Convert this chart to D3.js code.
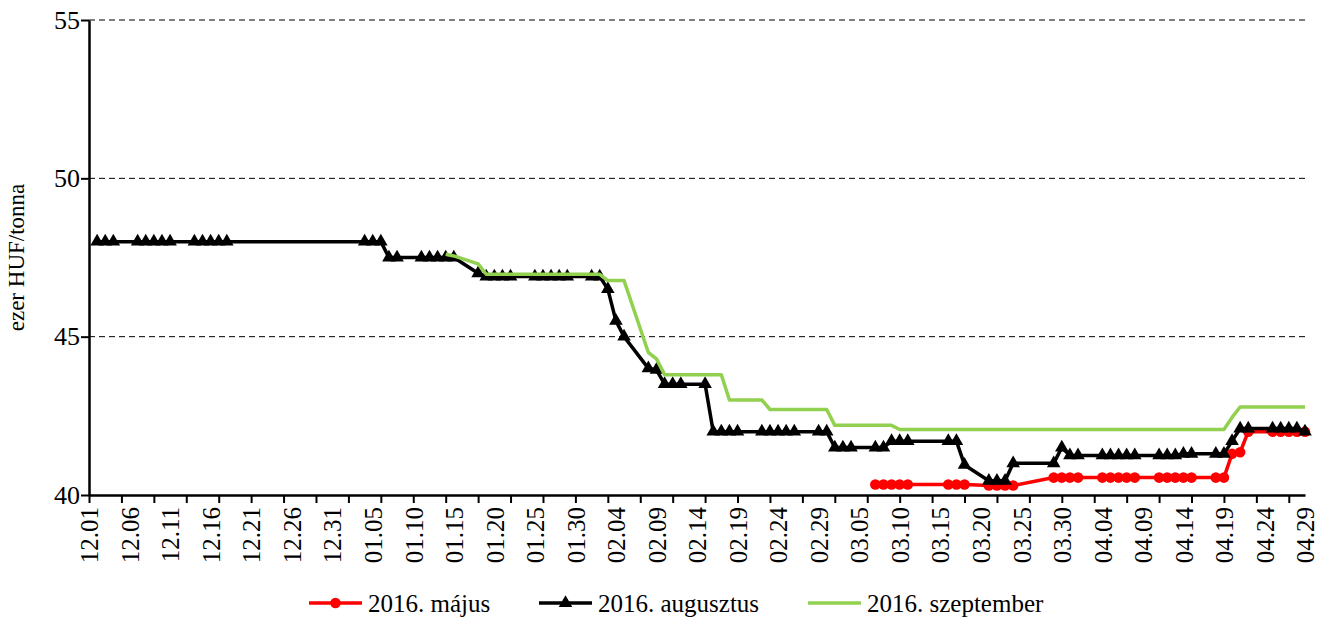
<!DOCTYPE html>
<html>
<head>
<meta charset="utf-8">
<script src="https://cdn.jsdelivr.net/npm/d3@7"></script>
<style>
  body { margin: 0; background: #fff; }
</style>
</head>
<body>
<div id="chart"></div>
<script>
var serif = "'Times New Roman', 'Liberation Serif', 'DejaVu Serif', serif";

// category axis: every day from 2015.12.01 to 2016.04.29
var days = d3.timeDay.range(new Date(2015, 11, 1), new Date(2016, 3, 30));
var fmt = d3.timeFormat("%m.%d");
var categories = days.map(fmt);
var labelTicks = categories.filter(function(d, i) { return i % 5 == 0; });
var markTicks = categories.filter(function(d, i) { return i % 4 == 0; });
var yTicks = [40, 45, 50, 55];

var seriesNames = ["2016. május", "2016. augusztus", "2016. szeptember"];

// 2016. május (red, circles)
var majus = [
  ["03.07",40.33],["03.08",40.33],["03.09",40.33],["03.10",40.33],["03.11",40.33],
  ["03.16",40.33],["03.17",40.33],["03.18",40.33],
  ["03.21",40.3],["03.22",40.3],["03.23",40.3],["03.24",40.3],
  ["03.29",40.55],["03.30",40.55],["03.31",40.55],["04.01",40.55],
  ["04.04",40.55],["04.05",40.55],["04.06",40.55],["04.07",40.55],["04.08",40.55],
  ["04.11",40.55],["04.12",40.55],["04.13",40.55],["04.14",40.55],["04.15",40.55],
  ["04.18",40.55],["04.19",40.55],
  ["04.20",41.3],["04.21",41.35],["04.22",42.0],
  ["04.25",42.0],["04.26",42.0],["04.27",42.0],["04.28",42.0],["04.29",42.0]
];

// 2016. augusztus (black, triangles)
var augusztus = [
  ["12.02",48],["12.03",48],["12.04",48],
  ["12.07",48],["12.08",48],["12.09",48],["12.10",48],["12.11",48],
  ["12.14",48],["12.15",48],["12.16",48],["12.17",48],["12.18",48],
  ["01.04",48],["01.05",48],["01.06",48],
  ["01.07",47.5],["01.08",47.5],
  ["01.11",47.5],["01.12",47.5],["01.13",47.5],["01.14",47.5],["01.15",47.5],
  ["01.18",47.0],
  ["01.19",46.9],["01.20",46.9],["01.21",46.9],["01.22",46.9],
  ["01.25",46.9],["01.26",46.9],["01.27",46.9],["01.28",46.9],["01.29",46.9],
  ["02.01",46.9],["02.02",46.9],
  ["02.03",46.5],["02.04",45.5],["02.05",45.0],
  ["02.08",44.0],["02.09",43.95],
  ["02.10",43.5],["02.11",43.5],["02.12",43.5],["02.15",43.5],
  ["02.16",42.0],["02.17",42.0],["02.18",42.0],["02.19",42.0],
  ["02.22",42.0],["02.23",42.0],["02.24",42.0],["02.25",42.0],["02.26",42.0],
  ["02.29",42.0],["03.01",42.0],
  ["03.02",41.5],["03.03",41.5],["03.04",41.5],["03.07",41.5],["03.08",41.5],
  ["03.09",41.7],["03.10",41.7],["03.11",41.7],["03.16",41.7],["03.17",41.7],
  ["03.18",40.95],
  ["03.21",40.45],["03.22",40.45],["03.23",40.45],
  ["03.24",41.0],["03.29",41.0],
  ["03.30",41.5],
  ["03.31",41.25],["04.01",41.25],
  ["04.04",41.25],["04.05",41.25],["04.06",41.25],["04.07",41.25],["04.08",41.25],
  ["04.11",41.25],["04.12",41.25],["04.13",41.25],["04.14",41.3],["04.15",41.3],
  ["04.18",41.3],["04.19",41.3],
  ["04.20",41.7],
  ["04.21",42.1],["04.22",42.1],
  ["04.25",42.1],["04.26",42.1],["04.27",42.1],["04.28",42.1],
  ["04.29",42.0]
];

// 2016. szeptember (green, no markers)
var szeptember = [
  ["01.14",47.6],["01.15",47.55],["01.18",47.3],
  ["01.19",46.97],["01.20",46.97],["01.21",46.97],["01.22",46.97],
  ["01.25",46.97],["01.26",46.97],["01.27",46.97],["01.28",46.97],["01.29",46.97],
  ["02.01",46.97],["02.02",46.97],
  ["02.03",46.77],["02.04",46.77],["02.05",46.77],
  ["02.08",44.5],["02.09",44.3],
  ["02.10",43.8],["02.11",43.8],["02.12",43.8],["02.15",43.8],["02.16",43.8],["02.17",43.8],
  ["02.18",43.0],["02.19",43.0],["02.22",43.0],
  ["02.23",42.7],["02.24",42.7],["02.25",42.7],["02.26",42.7],["02.29",42.7],["03.01",42.7],
  ["03.02",42.2],["03.03",42.2],["03.04",42.2],["03.07",42.2],["03.08",42.2],["03.09",42.2],
  ["03.10",42.07],["03.11",42.07],["03.16",42.07],["03.17",42.07],["03.18",42.07],
  ["03.21",42.07],["03.22",42.07],["03.23",42.07],["03.24",42.07],
  ["03.29",42.07],["03.30",42.07],["03.31",42.07],["04.01",42.07],
  ["04.04",42.07],["04.05",42.07],["04.06",42.07],["04.07",42.07],["04.08",42.07],
  ["04.11",42.07],["04.12",42.07],["04.13",42.07],["04.14",42.07],["04.15",42.07],
  ["04.18",42.07],["04.19",42.07],
  ["04.20",42.45],["04.21",42.78],["04.22",42.78],
  ["04.25",42.78],["04.26",42.78],["04.27",42.78],["04.28",42.78],["04.29",42.78]
];

var width = 1328, height = 618;
var margin = {top: 20, right: 23, bottom: 123, left: 89};

var svg = d3.select("#chart").append("svg")
    .attr("width", width)
    .attr("height", height);

svg.append("rect").attr("width", width).attr("height", height).attr("fill", "#fff");

var x = d3.scalePoint()
    .domain(categories)
    .range([margin.left, width - margin.right]);

var y = d3.scaleLinear()
    .domain([40, 55])
    .range([height - margin.bottom, margin.top]);

// dashed gridlines
svg.append("g")
    .selectAll("line")
    .data(yTicks.slice(1))
    .enter()
    .append("line")
    .attr("x1", margin.left)
    .attr("x2", width - margin.right)
    .attr("y1", d => y(d))
    .attr("y2", d => y(d))
    .attr("stroke", "#000")
    .attr("stroke-width", 1)
    .attr("stroke-dasharray", "6,4");

var line = d3.line()
    .x(d => x(d[0]))
    .y(d => y(d[1]));

// red series
svg.append("path")
    .datum(majus)
    .attr("d", line)
    .attr("fill", "none")
    .attr("stroke", "#ff0000")
    .attr("stroke-width", 3.5)
    .attr("stroke-linejoin", "round");
svg.append("g")
    .selectAll("circle")
    .data(majus)
    .enter()
    .append("circle")
    .attr("cx", d => x(d[0]))
    .attr("cy", d => y(d[1]))
    .attr("r", 5.3)
    .attr("fill", "#ff0000");

// black series
var tri = d3.symbol().type(d3.symbolTriangle).size(80);
svg.append("path")
    .datum(augusztus)
    .attr("d", line)
    .attr("fill", "none")
    .attr("stroke", "#000")
    .attr("stroke-width", 3.5)
    .attr("stroke-linejoin", "round");
svg.append("g")
    .selectAll("path")
    .data(augusztus)
    .enter()
    .append("path")
    .attr("d", tri)
    .attr("transform", d => "translate(" + x(d[0]) + "," + y(d[1]) + ")")
    .attr("fill", "#000");

// green series
svg.append("path")
    .datum(szeptember)
    .attr("d", line)
    .attr("fill", "none")
    .attr("stroke", "#92d050")
    .attr("stroke-width", 3.5)
    .attr("stroke-linejoin", "round");

// x axis: marks every 4 days, labels every 5 days
var xMarks = svg.append("g")
    .attr("transform", "translate(0," + y(40) + ")")
    .call(d3.axisBottom(x).tickValues(markTicks).tickSize(8).tickSizeOuter(0).tickFormat(""));
xMarks.select(".domain").attr("stroke-width", 2.5);
xMarks.selectAll(".tick line").attr("stroke-width", 2);

var xLabels = svg.append("g")
    .attr("transform", "translate(0," + y(40) + ")")
    .call(d3.axisBottom(x).tickValues(labelTicks).tickSize(0));
xLabels.select(".domain").remove();
xLabels.selectAll("text")
    .style("font-family", serif)
    .style("font-size", "25px")
    .attr("fill", "#000")
    .attr("text-anchor", "end")
    .attr("transform", "rotate(-90)")
    .attr("x", -12)
    .attr("y", 0)
    .attr("dy", "0.35em");

// y axis
var yAxis = svg.append("g")
    .attr("transform", "translate(" + margin.left + ",0)")
    .call(d3.axisLeft(y).tickValues(yTicks).tickSize(8).tickSizeOuter(0));
yAxis.select(".domain").attr("stroke-width", 2.5);
yAxis.selectAll(".tick line").attr("stroke-width", 2);
yAxis.selectAll("text")
    .style("font-family", serif)
    .style("font-size", "26px")
    .attr("fill", "#000")
    .attr("x", -9);

svg.append("text")
    .attr("transform", "translate(24," + y(47.5) + ") rotate(-90)")
    .attr("text-anchor", "middle")
    .style("font-family", serif)
    .style("font-size", "23px")
    .text("ezer HUF/tonna");

// legend
var legendY = 603;
var legend = [
  {name: seriesNames[0], color: "#ff0000", marker: "circle", x0: 309},
  {name: seriesNames[1], color: "#000", marker: "triangle", x0: 539},
  {name: seriesNames[2], color: "#92d050", marker: null, x0: 808}
];
var lg = svg.append("g")
    .selectAll("g")
    .data(legend)
    .enter()
    .append("g")
    .attr("transform", d => "translate(" + d.x0 + "," + legendY + ")");
lg.append("line")
    .attr("x1", 0).attr("x2", 53)
    .attr("stroke", d => d.color)
    .attr("stroke-width", 3.5);
lg.filter(d => d.marker == "circle")
    .append("circle")
    .attr("cx", 26.5).attr("r", 5.3)
    .attr("fill", d => d.color);
lg.filter(d => d.marker == "triangle")
    .append("path")
    .attr("d", tri)
    .attr("transform", "translate(26.5,0)")
    .attr("fill", d => d.color);
lg.append("text")
    .attr("x", 59)
    .attr("dy", "0.35em")
    .style("font-family", serif)
    .style("font-size", "25px")
    .text(d => d.name);
</script>
</body>
</html>
